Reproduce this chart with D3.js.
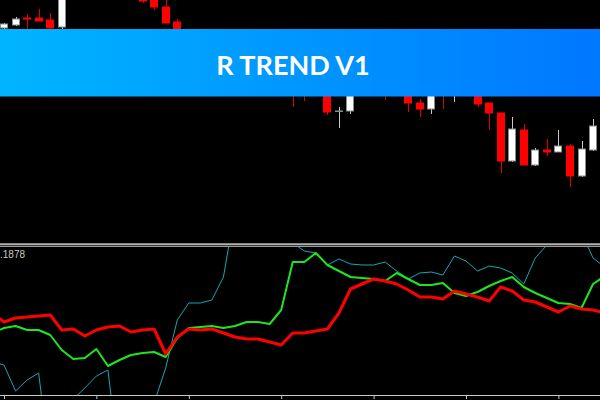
<!DOCTYPE html>
<html lang="en">
<head>
  <meta charset="UTF-8">
  <title>R TREND V1</title>
  <script src="https://d3js.org/d3.v7.min.js"></script>
  <style>
    body {
      margin: 0;
      background: #000;
    }
    #chart {
      display: block;
    }
    .title {
      font-family: Lato, "Open Sans", sans-serif;
      font-weight: bold;
    }
    .value-label {
      font-family: "Liberation Sans", Arial, sans-serif;
    }
  </style>
</head>
<body>
  <svg id="chart"></svg>

  <script>
    // Candles that show on screen (index along the time axis)
    const candleIdx = [0, 1, 2, 3, 4, 5, 12, 13, 14, 15, 25, 26, 28, 29, 30, 33, 35, 36, 37, 38, 39,
      41, 42, 43, 44, 45, 46, 47, 48, 49, 50, 51, 52];
    const openP = [1.1972, 1.1975, 1.1982, 1.1982, 1.1980, 1.1973, 1.2008, 1.2003, 1.1993, 1.1978,
      1.1930, 1.1940, 1.1920, 1.1889, 1.1889, 1.1940, 1.1915, 1.1897, 1.1891, 1.1930, 1.1910,
      1.1912, 1.1897, 1.1887, 1.1839, 1.1870, 1.1835, 1.1850, 1.1848, 1.1854, 1.1824, 1.1850, 1.1875];
    const highP = [1.1977, 1.1983, 1.1986, 1.1991, 1.1987, 1.2014, 1.2012, 1.2006, 1.2002, 1.1981,
      1.1940, 1.1945, 1.1925, 1.1893, 1.1920, 1.1945, 1.1920, 1.1901, 1.1916, 1.1935, 1.1940,
      1.1915, 1.1897, 1.1887, 1.1883, 1.1876, 1.1852, 1.1861, 1.1870, 1.1856, 1.1859, 1.1881, 1.1880];
    const lowP = [1.1971, 1.1974, 1.1969, 1.1979, 1.1970, 1.1970, 1.1997, 1.1990, 1.1977, 1.1950,
      1.1893, 1.1899, 1.1885, 1.1872, 1.1886, 1.1900, 1.1888, 1.1883, 1.1886, 1.1891, 1.1898,
      1.1893, 1.1870, 1.1827, 1.1838, 1.1835, 1.1834, 1.1844, 1.1848, 1.1813, 1.1823, 1.1849, 1.1835];
    const closeP = [1.1976, 1.1981, 1.1981, 1.1979, 1.1972, 1.2010, 1.1999, 1.1993, 1.1977, 1.1955,
      1.1910, 1.1915, 1.1888, 1.1889, 1.1915, 1.1920, 1.1897, 1.1891, 1.1912, 1.1910, 1.1930,
      1.1896, 1.1887, 1.1839, 1.1871, 1.1835, 1.1850, 1.1848, 1.1854, 1.1824, 1.1851, 1.1874, 1.1838];

    // Indicator lines, one value per bar starting at index -1
    const lineStart = -1;
    const redLine = [1.1834, 1.1825, 1.1829, 1.1830, 1.1831, 1.1832, 1.1817, 1.1818, 1.1811, 1.1817,
      1.1820, 1.1821, 1.1815, 1.1817, 1.1818, 1.1793, 1.1810, 1.1818, 1.1817, 1.1818,
      1.1814, 1.1810, 1.1808, 1.1808, 1.1805, 1.1802, 1.1814, 1.1814, 1.1816, 1.1818,
      1.1834, 1.1858, 1.1863, 1.1868, 1.1866, 1.1863, 1.1857, 1.1850, 1.1850, 1.1848,
      1.1856, 1.1853, 1.1850, 1.1846, 1.1860, 1.1856, 1.1847, 1.1845, 1.1840, 1.1835,
      1.1841, 1.1838, 1.1837, 1.1834];
    const greenLine = [1.1814, 1.1819, 1.1821, 1.1817, 1.1817, 1.1812, 1.1797, 1.1788, 1.1789, 1.1798,
      1.1781, 1.1787, 1.1792, 1.1794, 1.1795, 1.1790, 1.1809, 1.1819, 1.1820, 1.1821,
      1.1819, 1.1821, 1.1825, 1.1825, 1.1823, 1.1837, 1.1885, 1.1885, 1.1894, 1.1882,
      1.1876, 1.1870, 1.1869, 1.1868, 1.1866, 1.1874, 1.1868, 1.1862, 1.1862, 1.1864,
      1.1854, 1.1851, 1.1855, 1.1861, 1.1866, 1.1870, 1.1860, 1.1854, 1.1849, 1.1844,
      1.1843, 1.1839, 1.1863, 1.1871];
    const cyanLine = [1.1785, 1.1782, 1.1756, 1.1767, 1.1774, 1.1680, 1.1707, 1.1748, 1.1759, 1.1771,
      1.1777, 1.1681, 1.1687, 1.1717, 1.1744, 1.1779, 1.1827, 1.1844, 1.1844, 1.1847,
      1.1870, 1.1937, 1.1957, 1.1962, 1.1952, 1.1932, 1.1904, 1.1896, 1.1894, 1.1882,
      1.1888, 1.1883, 1.1882, 1.1882, 1.1885, 1.1876, 1.1868, 1.1874, 1.1875, 1.1872,
      1.1891, 1.1886, 1.1876, 1.1881, 1.1879, 1.1874, 1.1863, 1.1889, 1.1902, 1.1922,
      1.1922, 1.1914, 1.1889, 1.1880];

    const tickIdx = [0, 8, 16, 24, 32, 40, 48];
    const titleText = "R TREND V1";
    const valueLabel = ".1878";

    const width = 600, height = 400;

    const svg = d3.select("#chart")
      .attr("width", width)
      .attr("height", height);

    svg.append("rect")
      .attr("width", width)
      .attr("height", height)
      .attr("fill", "#000");

    // Scales
    const xScale = d3.scaleLinear().domain([0, 52]).range([4, 604.6]);
    const yPrice = d3.scaleLinear().domain([1.2000, 1.1758]).range([0, 242]);
    const yInd = d3.scaleLinear().domain([1.1900, 1.1752]).range([247, 395]);

    const defs = svg.append("defs");
    defs.append("clipPath").attr("id", "clip-top")
      .append("rect").attr("x", 0).attr("y", 0).attr("width", width).attr("height", 242);
    defs.append("clipPath").attr("id", "clip-bottom")
      .append("rect").attr("x", 0).attr("y", 247).attr("width", width).attr("height", 148.5);

    const grad = defs.append("linearGradient")
      .attr("id", "banner-grad")
      .attr("x1", "0%").attr("x2", "100%").attr("y1", "0%").attr("y2", "0%");
    grad.append("stop").attr("offset", "0%").attr("stop-color", "#00b5ff");
    grad.append("stop").attr("offset", "100%").attr("stop-color", "#0077ff");

    // Candles
    const candles = candleIdx.map((idx, k) => ({
      idx,
      open: openP[k],
      high: highP[k],
      low: lowP[k],
      close: closeP[k]
    }));

    const topG = svg.append("g").attr("clip-path", "url(#clip-top)");

    topG.selectAll(".wick")
      .data(candles)
      .enter()
      .append("line")
      .attr("class", "wick")
      .attr("x1", d => Math.round(xScale(d.idx)) + 0.5)
      .attr("x2", d => Math.round(xScale(d.idx)) + 0.5)
      .attr("y1", d => yPrice(d.high))
      .attr("y2", d => yPrice(d.low))
      .attr("stroke", d => d.close >= d.open ? "#c8c8c8" : "#e00000")
      .attr("stroke-width", 1);

    topG.selectAll(".body")
      .data(candles)
      .enter()
      .append("rect")
      .attr("class", "body")
      .attr("x", d => Math.round(xScale(d.idx)) - 3.5)
      .attr("width", 8 - 1)
      .attr("y", d => Math.min(yPrice(d.open), yPrice(d.close)))
      .attr("height", d => Math.max(0.5, Math.abs(yPrice(d.open) - yPrice(d.close))))
      .attr("fill", d => d.close >= d.open ? "#ffffff" : "#ff0000")
      .attr("stroke", d => d.close >= d.open ? "#8c8c8c" : "#ff0000")
      .attr("stroke-width", 1);

    // Banner
    svg.append("rect")
      .attr("x", 0)
      .attr("y", 29)
      .attr("width", width)
      .attr("height", 67.5)
      .attr("fill", "url(#banner-grad)");

    svg.append("text")
      .attr("class", "title")
      .attr("x", 293)
      .attr("y", 74.5)
      .attr("text-anchor", "middle")
      .attr("font-size", 27)
      .attr("fill", "#fff")
      .text(titleText);

    // Panel separator
    const sep = [["#808080", 243], ["#b4b4b4", 244], ["#3a3a3a", 245], ["#9a9a9a", 246]];
    sep.forEach(([c, y]) => {
      svg.append("rect").attr("x", 0).attr("y", y).attr("width", width).attr("height", 1).attr("fill", c);
    });

    // Indicator lines
    const botG = svg.append("g").attr("clip-path", "url(#clip-bottom)");
    const lineGen = d3.line()
      .x((d, i) => xScale(i + lineStart))
      .y(d => yInd(d));

    botG.append("path")
      .datum(cyanLine)
      .attr("fill", "none")
      .attr("stroke", "#14a8b6")
      .attr("stroke-width", 1)
      .attr("d", lineGen);

    botG.append("path")
      .datum(greenLine)
      .attr("fill", "none")
      .attr("stroke", "#1ee61e")
      .attr("stroke-width", 2)
      .attr("stroke-linejoin", "round")
      .attr("d", lineGen);

    botG.append("path")
      .datum(redLine)
      .attr("fill", "none")
      .attr("stroke", "#ff0000")
      .attr("stroke-width", 3)
      .attr("stroke-linejoin", "round")
      .attr("d", lineGen);

    svg.append("text")
      .attr("class", "value-label")
      .attr("x", 0)
      .attr("y", 258)
      .attr("font-size", 10)
      .attr("fill", "#c8c8c8")
      .text(valueLabel);

    // Bottom time axis
    svg.append("line")
      .attr("x1", 0).attr("x2", width)
      .attr("y1", 395.5).attr("y2", 395.5)
      .attr("stroke", "#c8c8c8");

    const xAxis = svg.append("g")
      .attr("transform", "translate(0,396)")
      .call(d3.axisBottom(xScale).tickValues(tickIdx).tickSize(3).tickFormat(""));
    xAxis.select(".domain").remove();
    xAxis.selectAll(".tick line").attr("stroke", "#c8c8c8");
  </script>
</body>
</html>
